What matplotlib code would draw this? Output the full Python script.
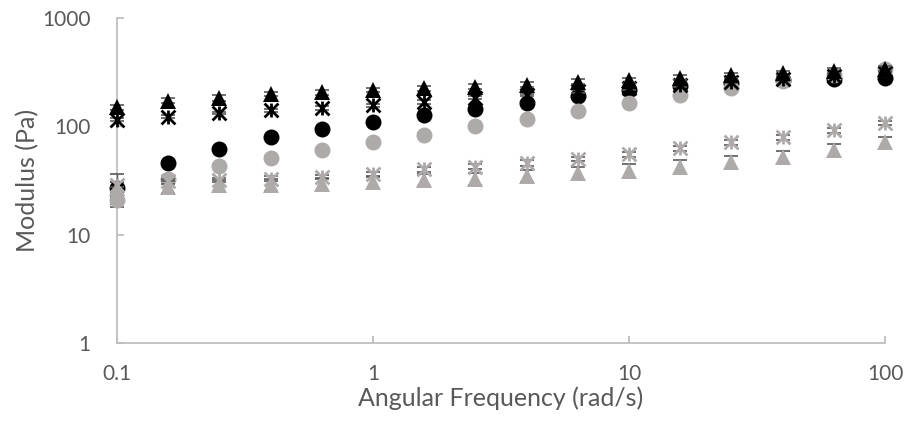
import matplotlib.pyplot as plt
from matplotlib.path import Path

# angular frequency sweep (rad/s), 5 points per decade
freq = [0.1, 0.158, 0.251, 0.398, 0.631, 1.0, 1.58, 2.51, 3.98, 6.31,
        10.0, 15.8, 25.1, 39.8, 63.1, 100.0]

# moduli in Pa
black_circle = [27, 45.5, 62, 79, 94, 110, 128, 146, 165, 192,
                217, 237, 252, 268, 276, 282]
gray_circle = [20.7, 33, 43.5, 51.5, 61, 71, 84, 100, 117, 140,
               163, 195, 225, 262, 300, 335]
black_tri = [150, 172, 183, 199, 207, 217, 226, 233, 243, 258,
             265, 280, 298, 310, 325, 340]
black_star = [115, 123, 133, 141, 148, 156, 168, 183, 195, 210,
              225, 240, 258, 272, 292, 310]
gray_tri = [27, 27.5, 28.5, 29, 29.5, 30.5, 32, 33, 35, 36.8,
            39, 42.5, 46.8, 52, 60, 71]
gray_star = [29, 31, 32, 33, 34, 36, 40, 42.5, 46, 50,
             55.5, 62.5, 71, 79, 92, 108]

# standard deviations
err_black_circle = [9, 2, 2, 2, 3, 3, 3, 4, 4, 5, 5, 6, 6, 7, 7, 8]
err_gray_circle = [1.5, 1.5, 1.5, 2, 2, 2, 2, 3, 3, 3, 4, 4, 5, 5, 6, 7]
err_black_tri = [8, 9, 10, 10, 11, 11, 12, 12, 13, 13, 14, 15, 16, 16, 17, 18]
err_black_star = [4, 4, 4, 5, 5, 5, 6, 6, 6, 7, 7, 8, 8, 9, 9, 10]
err_gray_tri = [3.5, 3.5, 3.5, 3.5, 4, 4, 4, 4, 4.5, 5, 5.5, 6, 6.5, 7, 8, 9.5]
err_gray_star = [1.5, 1.5, 1.5, 1.5, 1.5, 2, 2, 2, 2.5, 2.5, 3, 3, 3.5, 4, 4.5, 5]

x_ticks = [0.1, 1, 10, 100]
x_tick_labels = ["0.1", "1", "10", "100"]
y_ticks = [1, 10, 100, 1000]
y_tick_labels = ["1", "10", "100", "1000"]

BLACK = "#000000"
GRAY = "#AEAAAA"
AXIS = "#BFBFBF"
TEXT = "#595959"
ERR = "#595959"

# asterisk: an X with a vertical stroke through it
star = Path(
    [(-1, -1), (1, 1), (-1, 1), (1, -1), (0, -1), (0, 1)],
    [Path.MOVETO, Path.LINETO, Path.MOVETO, Path.LINETO, Path.MOVETO, Path.LINETO],
)

plt.rcParams["font.family"] = ["Lato", "DejaVu Sans"]

fig = plt.figure(figsize=(9.08, 4.30), dpi=100)
ax = fig.add_axes([0.1289, 0.2023, 0.8458, 0.7558])

series = [
    (black_circle, err_black_circle, "o", BLACK, 11.5, 1),
    (gray_circle, err_gray_circle, "o", GRAY, 11.5, 1),
    (gray_tri, err_gray_tri, "^", GRAY, 12, 1),
    (gray_star, err_gray_star, star, GRAY, 10, 2),
    (black_star, err_black_star, star, BLACK, 10, 2),
    (black_tri, err_black_tri, "^", BLACK, 12, 1),
]

for i, (vals, errs, mk, col, ms, mew) in enumerate(series):
    filled = mk != star
    ax.errorbar(
        freq, vals, yerr=errs,
        fmt="none", ecolor=ERR, elinewidth=1, capsize=5, capthick=1.2,
        zorder=3 + 2 * i, clip_on=False,
    )
    ax.plot(
        freq, vals, linestyle="none", marker=mk, markersize=ms,
        markerfacecolor=col if filled else "none",
        markeredgecolor=col, markeredgewidth=mew if not filled else 0,
        zorder=4 + 2 * i, clip_on=False,
    )

ax.set_xscale("log")
ax.set_yscale("log")
ax.set_xlim(0.1, 100)
ax.set_ylim(1, 1000)

ax.set_xticks(x_ticks)
ax.set_xticklabels(x_tick_labels)
ax.set_yticks(y_ticks)
ax.set_yticklabels(y_tick_labels)
ax.minorticks_off()

for side in ["top", "right"]:
    ax.spines[side].set_visible(False)
for side in ["left", "bottom"]:
    ax.spines[side].set_color(AXIS)
    ax.spines[side].set_linewidth(1.3)

ax.tick_params(axis="both", direction="in", length=5, width=1.3,
               color=AXIS, labelcolor=TEXT, labelsize=15)
ax.tick_params(axis="x", pad=15)
ax.tick_params(axis="y", pad=19)

ax.set_xlabel("Angular Frequency (rad/s)", fontsize=18, color=TEXT, labelpad=2)
ax.set_ylabel("Modulus (Pa)", fontsize=18, color=TEXT, labelpad=2)

fig.savefig("out.png", dpi=100)
